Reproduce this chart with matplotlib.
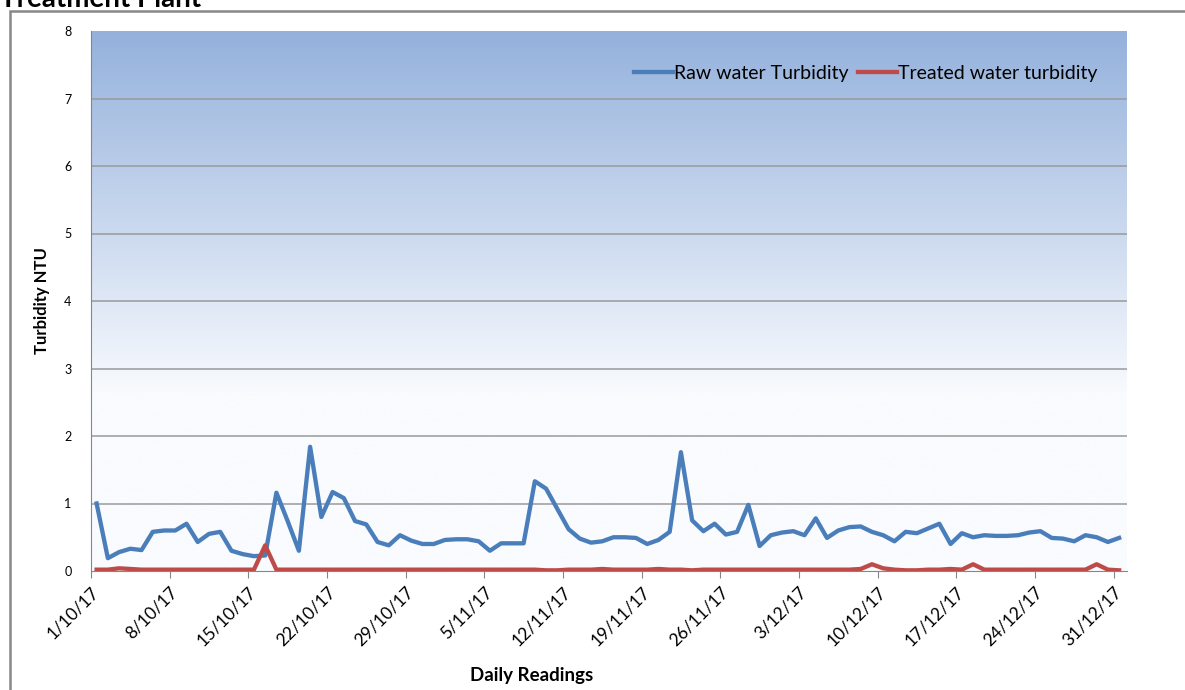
import numpy as np
import matplotlib
matplotlib.use("Agg")
import matplotlib.pyplot as plt
from matplotlib.patches import Rectangle

plt.rcParams['font.family'] = ['Lato', 'DejaVu Sans']

# daily readings 1/10/17 .. 31/12/17
raw_turbidity = [
    1.00, 0.19, 0.28, 0.33, 0.31, 0.58, 0.60, 0.60, 0.70, 0.43,
    0.55, 0.58, 0.30, 0.25, 0.22, 0.23, 1.16, 0.74, 0.30, 1.84,
    0.80, 1.17, 1.08, 0.74, 0.69, 0.43, 0.38, 0.53, 0.45, 0.40,
    0.40, 0.46, 0.47, 0.47, 0.44, 0.30, 0.41, 0.41, 0.41, 1.33,
    1.22, 0.92, 0.62, 0.48, 0.42, 0.44, 0.50, 0.50, 0.49, 0.40,
    0.46, 0.58, 1.76, 0.75, 0.59, 0.70, 0.54, 0.58, 0.98, 0.37,
    0.53, 0.57, 0.59, 0.53, 0.78, 0.49, 0.60, 0.65, 0.66, 0.58,
    0.53, 0.44, 0.58, 0.56, 0.63, 0.70, 0.40, 0.56, 0.50, 0.53,
    0.52, 0.52, 0.53, 0.57, 0.59, 0.49, 0.48, 0.44, 0.53, 0.50,
    0.43, 0.49,
]
treated_turbidity = [
    0.02, 0.02, 0.04, 0.03, 0.02, 0.02, 0.02, 0.02, 0.02, 0.02,
    0.02, 0.02, 0.02, 0.02, 0.02, 0.38, 0.02, 0.02, 0.02, 0.02,
    0.02, 0.02, 0.02, 0.02, 0.02, 0.02, 0.02, 0.02, 0.02, 0.02,
    0.02, 0.02, 0.02, 0.02, 0.02, 0.02, 0.02, 0.02, 0.02, 0.02,
    0.01, 0.01, 0.02, 0.02, 0.02, 0.03, 0.02, 0.02, 0.02, 0.02,
    0.03, 0.02, 0.02, 0.01, 0.02, 0.02, 0.02, 0.02, 0.02, 0.02,
    0.02, 0.02, 0.02, 0.02, 0.02, 0.02, 0.02, 0.02, 0.03, 0.10,
    0.04, 0.02, 0.01, 0.01, 0.02, 0.02, 0.03, 0.02, 0.10, 0.02,
    0.02, 0.02, 0.02, 0.02, 0.02, 0.02, 0.02, 0.02, 0.02, 0.10,
    0.02, 0.01,
]
tick_days = [0, 7, 14, 21, 28, 35, 42, 49, 56, 63, 70, 77, 84, 91]
tick_labels = ["1/10/17", "8/10/17", "15/10/17", "22/10/17", "29/10/17",
               "5/11/17", "12/11/17", "19/11/17", "26/11/17", "3/12/17",
               "10/12/17", "17/12/17", "24/12/17", "31/12/17"]

# readings taken around midday
days = np.arange(len(raw_turbidity)) + 0.5

fig = plt.figure(figsize=(11.85, 6.9), dpi=100)
ax = fig.add_axes([91 / 1185, 1 - 571 / 690, 1036 / 1185, 540 / 690])

# gradient fill like the excel plot area
yy = np.linspace(0, 8, 400)
top = np.array([148, 177, 220]) / 255
bot = np.array([249, 251, 254]) / 255
t = np.clip((yy - 2.6) / (8 - 2.6), 0, 1)[:, None]
grad = bot + (top - bot) * t
ax.imshow(grad[:, None, :], extent=[0, 92.2, 0, 8], origin="lower",
          aspect="auto", zorder=0)

for g in range(1, 8):
    ax.axhline(g, color="#9a9a9a", lw=1.1, zorder=1)

ax.plot(days, raw_turbidity, color="#4a7ebb", lw=3.1, zorder=3,
        label="Raw water Turbidity", solid_joinstyle="round")
ax.plot(days, treated_turbidity, color="#be4b48", lw=3.1, zorder=3,
        label="Treated water turbidity", solid_joinstyle="round")

ax.set_xlim(0, 92.2)
ax.set_ylim(0, 8)
ax.set_xticks(tick_days)
ax.set_xticklabels(tick_labels, rotation=45, ha="right", rotation_mode="anchor",
                   fontsize=12.5)
ax.set_yticks(range(0, 9))
ax.tick_params(axis="y", length=0, labelsize=9, pad=14)
ax.tick_params(axis="x", length=5, color="#868686", pad=4)
for side in ["top", "right"]:
    ax.spines[side].set_visible(False)
for side in ["left", "bottom"]:
    ax.spines[side].set_color("#868686")

ax.set_ylabel("Turbidity NTU", fontsize=12, fontweight="bold")
ax.set_xlabel("Daily Readings", fontsize=13.5, fontweight="bold")
ax.yaxis.set_label_coords(-0.04, 0.5)
ax.xaxis.set_label_coords(0.425, -0.178)

ax.legend(loc="upper right", bbox_to_anchor=(0.988, 0.97), ncol=2, frameon=False,
          fontsize=14, handlelength=2.0, handletextpad=0.05, columnspacing=0.5)

# outer chart frame and the clipped title above it
fig.patches.append(Rectangle((10 / 1185, -0.05), 1.2, 1 - 11 / 690 + 0.05,
                             transform=fig.transFigure, fill=False,
                             edgecolor="#888888", lw=1.8))
fig.text(0.0, 1 - 7 / 690, "Treatment Plant", fontsize=20, fontweight="bold",
         va="baseline", ha="left")

fig.savefig("out.png", dpi=100)
